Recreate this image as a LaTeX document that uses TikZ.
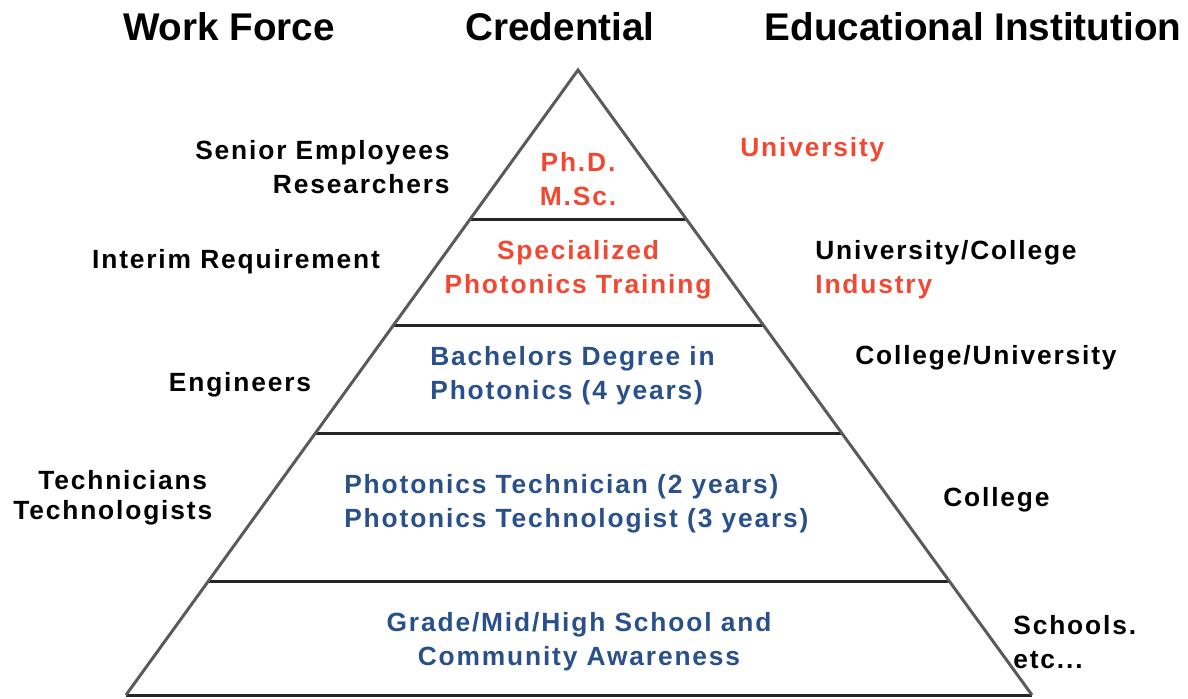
\documentclass[tikz,border=0pt]{standalone}
\usepackage{fontspec}
\setmainfont{Liberation Sans}
\newfontfamily\headfont{Liberation Sans}
\newfontfamily\labelfont{Liberation Sans}[LetterSpace=7]
\usepackage{tikz}

\definecolor{credred}{RGB}{242,72,50}
\definecolor{credblue}{RGB}{42,80,140}
\definecolor{sidegray}{RGB}{90,90,90}

\begin{document}
\begin{tikzpicture}[x=0.02cm, y=-0.02cm,
  head/.style={font=\headfont\bfseries\fontsize{22}{26}\selectfont},
  lbl/.style={font=\labelfont\bfseries\fontsize{15}{19.3}\selectfont, inner sep=0pt},
  side/.style={draw=sidegray, line width=1.7pt},
  level/.style={draw=black!85, line width=1.7pt}]
  \useasboundingbox (0,0) rectangle (1188,698);

  % pyramid corners
  \coordinate (apex) at (578,70);
  \coordinate (bl) at (126,695);
  \coordinate (br) at (1032,695);

  % ends of the level lines
  \coordinate (l1) at (470,219);  \coordinate (r1) at (686,219);
  \coordinate (l2) at (394,325);  \coordinate (r2) at (763,325);
  \coordinate (l3) at (316,433);  \coordinate (r3) at (842,433);
  \coordinate (l4) at (208,581);  \coordinate (r4) at (949,581);

  \draw[level] (l1) -- (r1);
  \draw[level] (l2) -- (r2);
  \draw[level] (l3) -- (r3);
  \draw[level] (l4) -- (r4);
  \draw[level] (bl) -- (br);
  \draw[side, line join=miter] (bl) -- (apex) -- (br);

  % column titles
  \node[head] (work) at (229,27) {Work Force};
  \node[head] (cred) at (560,27) {Credential};
  \node[head] (inst) at (973,27) {Educational Institution};

  % work force
  \node[lbl, align=right, anchor=east] (senior) at (450,167) {Senior Employees\\Researchers};
  \node[lbl] (interim) at (236,262) {Interim Requirement};
  \node[lbl] (eng) at (240,385) {Engineers};
  \node[lbl, anchor=west] (techn) at (38,480) {Technicians};
  \node[lbl, anchor=west] (techl) at (13,513) {Technologists};

  % credentials
  \node[lbl, align=center, text=credred] (phd) at (578,179) {Ph.D.\\M.Sc.};
  \node[lbl, align=center, text=credred] (spec) at (578,270) {Specialized\\Photonics Training};
  \node[lbl, align=left, anchor=west, text=credblue] (bach) at (430,376) {Bachelors Degree in\\Photonics (4 years)};
  \node[lbl, align=left, anchor=west, text=credblue] (techcred) at (344,504) {Photonics Technician (2 years)\\Photonics Technologist (3 years)};
  \node[lbl, align=center, text=credblue] (school) at (579,642) {Grade/Mid/High School and\\Community Awareness};

  % institutions
  \node[lbl, text=credred, anchor=west] (uni) at (740,150) {University};
  \node[lbl, align=left, anchor=west] (unicol) at (815,270) {University/College\\\textcolor{credred}{Industry}};
  \node[lbl, anchor=west] (coluni) at (855,358) {College/University};
  \node[lbl, anchor=west] (col) at (943,500) {College};
  \node[lbl, align=left, anchor=west] (schools) at (1013,642) {Schools.\\etc...};
\end{tikzpicture}
\end{document}
